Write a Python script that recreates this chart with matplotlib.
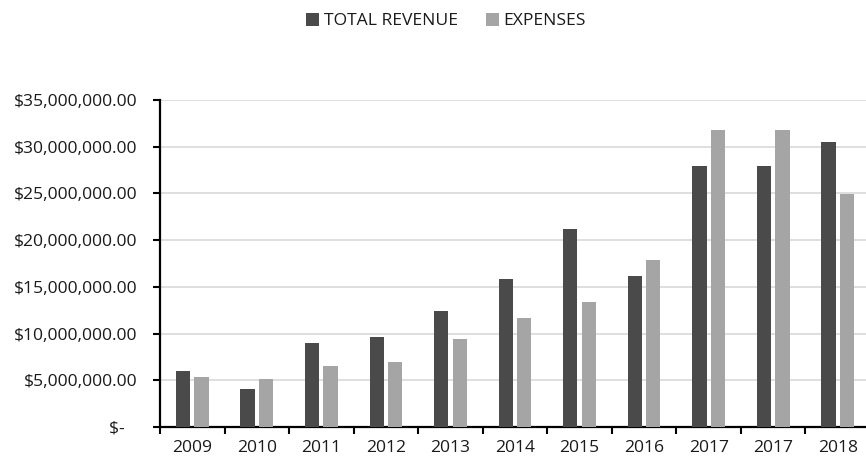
import matplotlib
matplotlib.use("Agg")
import matplotlib.pyplot as plt
import numpy as np
from matplotlib.patches import Patch

categories = ["2009", "2010", "2011", "2012", "2013", "2014", "2015", "2016", "2017", "2017", "2018"]
total_revenue = [6.0e6, 4.1e6, 9.0e6, 9.65e6, 12.4e6, 15.85e6, 21.2e6, 16.2e6, 27.9e6, 27.9e6, 30.55e6]
expenses = [5.3e6, 5.1e6, 6.55e6, 6.95e6, 9.4e6, 11.65e6, 13.35e6, 17.85e6, 31.8e6, 31.8e6, 24.9e6]
y_ticks = [0, 5e6, 10e6, 15e6, 20e6, 25e6, 30e6, 35e6]

plt.rcParams['font.family'] = ['Open Sans', 'DejaVu Sans']

W, H = 866, 459
fig = plt.figure(figsize=(W / 100, H / 100), dpi=100)
left, right, bottom, top = 160, 870, 427, 100
ax = fig.add_axes([left / W, 1 - bottom / H, (right - left) / W, (bottom - top) / H])

x = np.arange(len(categories))
bw = 0.22
off = 0.143
c_rev = "#4a4a4a"
c_exp = "#a5a5a5"
ax.bar(x - off, total_revenue, bw, color=c_rev, zorder=3)
ax.bar(x + off, expenses, bw, color=c_exp, zorder=3)

ax.set_xlim(-0.5, len(categories) - 0.5)
ax.set_ylim(0, 35e6)
ax.set_yticks(y_ticks)

def fmt(v):
    if v == 0:
        return "$-   "
    return "${:,.2f}".format(v)

fs = 12.6
ax.set_yticklabels([fmt(v) for v in y_ticks], fontsize=fs, color="#1a1a1a")
ax.yaxis.grid(True, color="#d9d9d9", linewidth=1.2, zorder=0)
ax.set_axisbelow(True)

ax.set_xticks(x)
ax.set_xticklabels(categories, fontsize=fs, color="#1a1a1a")
ax.set_xticks(np.arange(len(categories) + 1) - 0.5, minor=True)
ax.tick_params(axis='x', which='major', length=0, pad=9)
ax.tick_params(axis='x', which='minor', length=5, width=1.5, color="black", direction='out')
ax.tick_params(axis='y', length=5, width=1.5, color="black", direction='out', pad=11)

for s in ["top", "right"]:
    ax.spines[s].set_visible(False)
for s in ["left", "bottom"]:
    ax.spines[s].set_linewidth(1.6)
    ax.spines[s].set_color("black")

handles = [Patch(facecolor=c_rev), Patch(facecolor=c_exp)]
fig.legend(handles, ["TOTAL REVENUE", "EXPENSES"], loc="center", bbox_to_anchor=(446 / W, 1 - 21 / H),
           ncol=2, frameon=False, fontsize=fs, handlelength=0.75, handleheight=0.75,
           handletextpad=0.25, columnspacing=1.6, labelcolor="#1a1a1a")

fig.savefig("out.png", dpi=100)
